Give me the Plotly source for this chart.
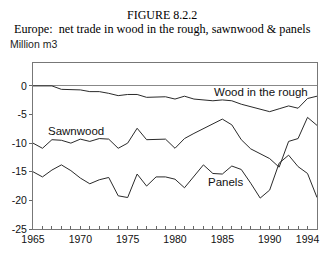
import plotly.graph_objects as go

years = list(range(1965, 1996))

wood_rough = [0.0, 0.0, 0.0, -0.6, -0.7, -0.7, -1.0, -1.0, -1.3, -1.7,
              -1.5, -1.5, -2.0, -1.9, -1.9, -2.3, -1.8, -2.3, -2.4, -2.6,
              -2.45, -2.6, -3.2, -3.6, -4.0, -4.5, -4.0, -3.5, -3.9, -2.2,
              -1.8]

sawnwood = [-10.0, -10.9, -9.4, -9.5, -10.0, -9.3, -9.7, -9.2, -9.3, -10.9,
            -10.0, -7.4, -9.4, -9.4, -9.3, -10.9, -9.2, -8.3, -7.5, -6.7,
            -5.8, -6.8, -9.4, -11.0, -11.8, -12.7, -14.2, -9.7, -9.2, -5.5,
            -6.9]

panels = [-15.0, -15.9, -14.7, -13.8, -14.8, -16.1, -17.1, -16.4, -16.0, -19.2,
          -19.5, -15.4, -17.5, -15.9, -15.9, -16.3, -17.8, -15.7, -13.8, -15.3,
          -15.4, -14.0, -14.6, -17.0, -19.6, -18.2, -13.5, -12.1, -14.1, -15.3,
          -19.5]

series_names = ["Wood in the rough", "Sawnwood", "Panels"]
x_tick_years = [1965, 1970, 1975, 1980, 1985, 1990, 1994]
y_ticks = [0, -5, -10, -15, -20, -25]

title1 = "FIGURE 8.2.2"
title2 = "Europe:\u00a0 net trade in wood in the rough, sawnwood &amp; panels"
y_unit = "Million m3"

fig = go.Figure()
for name, vals in zip(series_names, [wood_rough, sawnwood, panels]):
    fig.add_trace(go.Scatter(x=years, y=vals, mode="lines", name=name,
                             line=dict(color="#2a2a2a", width=1)))

# series labels
label_pos = {"Wood in the rough": (1989.1, -1.05),
             "Sawnwood": (1969.5, -7.85),
             "Panels": (1985.3, -16.8)}
for name in series_names:
    lx, ly = label_pos[name]
    fig.add_annotation(x=lx, y=ly, text=name, showarrow=False,
                       font=dict(family="Liberation Sans, Arial", size=11.5, color="#111"),
                       xanchor="center", yanchor="middle")

sans = "Liberation Sans, Arial"
serif = "Liberation Serif, Times New Roman"
fig.add_annotation(xref="paper", yref="paper", x=0.455, y=1.29, text=title1,
                   showarrow=False, font=dict(family=serif, size=12, color="#000"),
                   xanchor="center", yanchor="middle")
fig.add_annotation(xref="paper", yref="paper", x=0.455, y=1.203, text=title2,
                   showarrow=False, font=dict(family=serif, size=12.2, color="#000"),
                   xanchor="center", yanchor="middle")
fig.add_annotation(xref="paper", yref="paper", x=-0.0874, y=1.112, text=y_unit,
                   showarrow=False, font=dict(family=sans, size=10.5, color="#222"),
                   xanchor="left", yanchor="middle")

fig.update_layout(
    width=327, height=254,
    margin=dict(l=33, r=8, t=63, b=25),
    paper_bgcolor="white", plot_bgcolor="white",
    showlegend=False,
    xaxis=dict(range=[1965, 1995], tickmode="array", tickvals=x_tick_years,
               ticktext=[str(v) for v in x_tick_years],
               ticks="inside", ticklen=3, tickcolor="#666",
               showgrid=False, zeroline=False,
               showline=True, linecolor="#777", linewidth=1, mirror=True,
               tickfont=dict(family=sans, size=10.5, color="#111"),
               minor=dict(dtick=1, tick0=1965, ticks="inside", ticklen=3,
                          tickcolor="#666", showgrid=False)),
    yaxis=dict(range=[-25, 4], tickmode="array", tickvals=y_ticks,
               ticktext=[str(v) for v in y_ticks],
               ticks="outside", ticklen=3, tickcolor="#666",
               showgrid=False, zeroline=True, zerolinecolor="#888", zerolinewidth=1,
               showline=True, linecolor="#777", linewidth=1, mirror=True,
               tickfont=dict(family=sans, size=10.5, color="#111")),
)

fig.write_html("out.html")
